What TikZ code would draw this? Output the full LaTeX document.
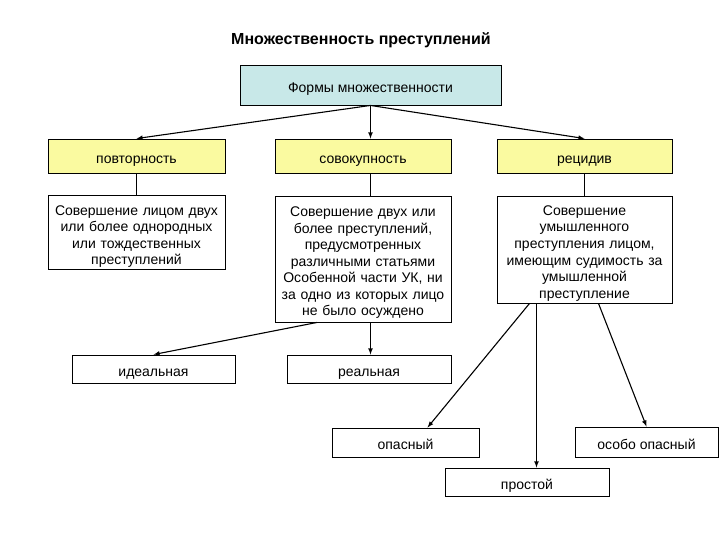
\documentclass[tikz,border=0pt]{standalone}
\usepackage{fontspec}
\setmainfont{Liberation Sans}
\usepackage{tikz}
\definecolor{hellblau}{RGB}{200,232,232}
\definecolor{hellgelb}{RGB}{250,250,160}
\usetikzlibrary{arrows}

\begin{document}
\begin{tikzpicture}[x=1pt, y=-1pt,
        box/.style={draw, line width=0.9pt, inner sep=0pt, align=center, font=\fontsize{14}{16.5}\selectfont,
            execute at begin node=\rule{0pt}{19.5pt}, execute at end node=\rule[-5pt]{0pt}{5pt}},
        textbox/.style={box, text width=170pt},
        >=latex,   %Pfeilspitzen
        pfeil/.style={->, line width=1.1pt}]
        \useasboundingbox (0,0) rectangle (720,540);
        % Ueberschrift
        \node (titel) at (361,40) {\fontsize{16}{18}\selectfont\bfseries Множественность преступлений};
        % obere Kaesten
        \node[box, fill=hellblau, minimum width=261, minimum height=40] (formen) at (370.5,85) {Формы множественности};
        \node[box, fill=hellgelb, minimum width=177, minimum height=34] (povt) at (136.5,156) {повторность};
        \node[box, fill=hellgelb, minimum width=176, minimum height=34] (sov) at (363,156) {совокупность};
        \node[box, fill=hellgelb, minimum width=175, minimum height=34] (rez) at (584.5,156) {рецидив};
        % Erklaerungen
        \node[textbox, minimum width=177, minimum height=73] (povttext) at (136.5,232.5)
            {Совершение лицом двух\\или более однородных\\или тождественных\\преступлений};
        \node[textbox, minimum width=176, minimum height=126] (sovtext) at (363,259)
            {Совершение двух или\\более преступлений,\\предусмотренных\\различными статьями\\Особенной части УК, ни\\за одно из которых лицо\\не было осуждено};
        \node[textbox, minimum width=175, minimum height=107] (reztext) at (584.5,249.5)
            {Совершение\\умышленного\\преступления лицом,\\имеющим судимость за\\умышленной\\преступление};
        % untere Kaesten
        \node[box, minimum width=163, minimum height=28] (ideal) at (153.5,369) {идеальная};
        \node[box, minimum width=164, minimum height=28] (real) at (369,369) {реальная};
        \node[box, minimum width=147, minimum height=29] (opas) at (405.5,442.5) {опасный};
        \node[box, minimum width=143, minimum height=30] (osobo) at (646.5,442) {особо опасный};
        \node[box, minimum width=164, minimum height=28] (prost) at (527,482) {простой};
        % Pfeile
        \draw[pfeil] (formen.south) -- (povt.north);
        \draw[pfeil] (formen.south) -- (formen.south |- sov.north);
        \draw[pfeil] (formen.south) -- (rez.north);
        \draw[line width=0.9pt] (povt) -- (povttext);
        \draw[line width=0.9pt] (formen.south |- sov.south) -- (formen.south |- sovtext.north);
        \draw[line width=0.9pt] (rez) -- (reztext);
        \draw[pfeil] ([xshift=-46]sovtext.south) -- (ideal.north);
        \draw[pfeil] (formen.south |- sovtext.south) -- (formen.south |- real.north);
        \draw[pfeil] ([xshift=-55]reztext.south) -- ([xshift=22]opas.north);
        \draw[pfeil] ([xshift=-48]reztext.south) -- ([xshift=-48]reztext.south |- prost.north);
        \draw[pfeil] ([xshift=14]reztext.south) -- (osobo.north);
    \end{tikzpicture}
\end{document}
